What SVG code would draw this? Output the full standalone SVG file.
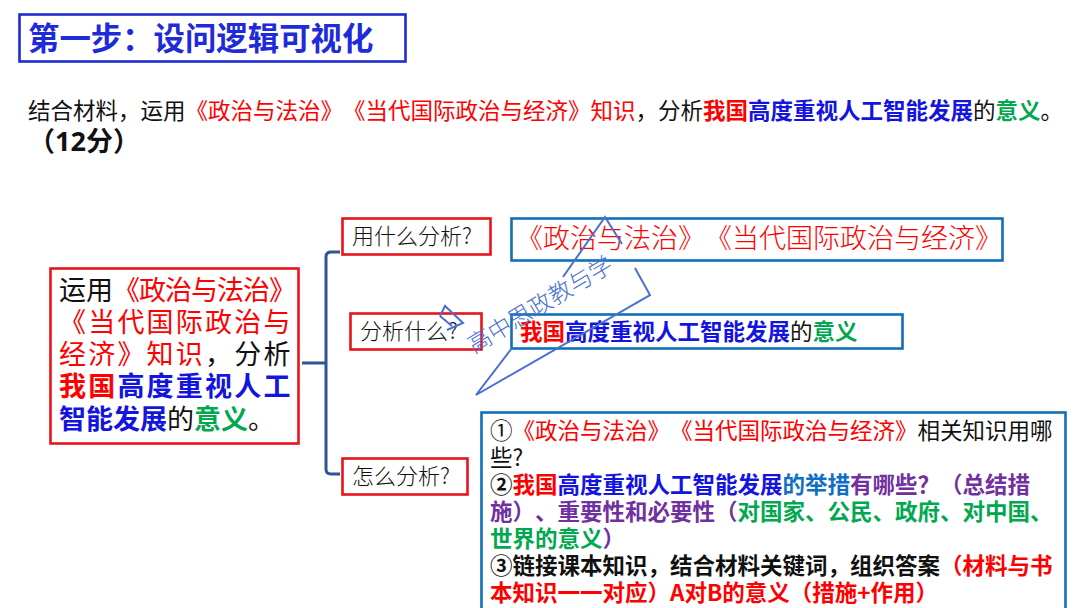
<svg xmlns="http://www.w3.org/2000/svg" width="1080" height="608" viewBox="0 0 1080 608">
<style>
text{font-family:"Noto Sans CJK SC","Noto Sans",sans-serif;fill:#111;white-space:pre;text-spacing-trim:space-all;font-feature-settings:"palt" 0,"chws" 0}
.r{fill:#f00}.b{fill:#1414e0}.g{fill:#00a850}.p{fill:#7030a0}.c{fill:#0f6fc6}.k{fill:#111}
.bd{font-weight:700}.lt{font-weight:300}
.rb{fill:#fff;stroke:#e8131c;stroke-width:2.6}
.bb{fill:#fff;stroke:#0f70b8;stroke-width:2.6}
.wm{fill:none;stroke:#4a6fd0;stroke-width:2}
</style>
<rect width="1080" height="608" fill="#fff"/>
<g id="title"><rect x="19.5" y="14.5" width="386" height="47" fill="#fff" stroke="#1f2bd0" stroke-width="2.6"/>
<text x="28" y="50" font-size="31.4" font-weight="700" style="fill:#1f2bd8">第一步：设问逻辑可视化</text></g>
<g id="question"><text x="28" y="119" font-size="22.5">结合材料，运用<tspan class="r">《政治与法治》《当代国际政治与经济》知识</tspan>，分析<tspan class="r bd">我国</tspan><tspan class="b bd">高度重视人工智能发展</tspan>的<tspan class="g bd">意义</tspan>。</text>
<text x="28" y="151" font-size="27" font-weight="700">（<tspan style="font-family:'Open Sans','Noto Sans',sans-serif">12</tspan>分）</text></g>
<g id="connectors"><path d="M302 363H326M340 252H331Q326 252 326 257V469Q326 474 331 474H340" fill="none" stroke="#2f5597" stroke-width="3"/></g>
<g id="main"><rect class="rb" x="50.5" y="268.5" width="248" height="175"/>
<text font-size="27"><tspan x="59" y="300">运用</tspan><tspan class="r" x="113" y="300" letter-spacing="-1">《政治与法治》</tspan>
<tspan class="r" x="59" y="332" letter-spacing="2.2">《当代国际政治与</tspan>
<tspan class="r" x="59" y="364" letter-spacing="2.2">经济》知识</tspan><tspan x="205" y="364" letter-spacing="2.2">，分析</tspan>
<tspan class="r bd" x="59" y="396" letter-spacing="2.2">我国</tspan><tspan class="b bd" letter-spacing="2.2">高度重视人工</tspan>
<tspan class="b bd" x="59" y="429">智能发展</tspan><tspan>的</tspan><tspan class="g bd">意义</tspan><tspan>。</tspan></text></g>
<g id="q1"><rect class="rb" x="342.500" y="218.500" width="148" height="36"/><text class="lt" x="352" y="244" font-size="22">用什么分析?</text></g>
<g id="q2"><rect class="rb" x="350.500" y="313.500" width="131" height="36"/><text class="lt" x="360" y="339" font-size="22">分析什么?</text></g>
<g id="q3"><rect class="rb" x="342.500" y="458.500" width="125" height="36"/><text class="lt" x="352" y="484" font-size="22">怎么分析?</text></g>
<g id="a1"><rect class="bb" x="511.500" y="218.500" width="491" height="42"/><text class="lt r" x="516" y="248" font-size="27">《政治与法治》《当代国际政治与经济》</text></g>
<g id="a2"><rect class="bb" x="511.500" y="314.500" width="391" height="34"/><text x="520" y="340" font-size="22.500"><tspan class="r bd">我国</tspan><tspan class="b bd">高度重视人工智能发展</tspan><tspan>的</tspan><tspan class="g bd">意义</tspan></text></g>
<g id="a3"><rect class="bb" x="481.500" y="412.500" width="584" height="200"/>
<text font-size="22.5"><tspan x="490" y="439">①</tspan><tspan class="r" x="512.500" y="439">《政治与法治》《当代国际政治与经济》</tspan><tspan>相关知识用哪</tspan>
<tspan x="490" y="466">些?</tspan>
<tspan x="490" y="493" class="bd">②</tspan><tspan class="r bd" x="512.500" y="493">我国</tspan><tspan class="b bd">高度重视人工智能发展</tspan><tspan class="c bd">的举措</tspan><tspan class="p bd">有哪些？（总结措</tspan>
<tspan x="490" y="520" class="p bd">施）、重要性和必要性（</tspan><tspan class="g bd">对国家、公民、政府、对中国、</tspan>
<tspan x="490" y="547" class="g bd">世界的意义</tspan><tspan class="p bd">）</tspan>
<tspan x="490" y="574" class="bd">③</tspan><tspan x="512.500" y="574" class="bd">链接课本知识，结合材料关键词，组织答案</tspan><tspan class="r bd">（材料与书</tspan>
<tspan x="490" y="601" class="r bd">本知识一一对应）A对B的意义（措施+作用）</tspan></text></g>
<g id="watermark"><path class="wm" d="M512 348L476 395L650 295L635 268M563 277L605 217L622 244M440 316L445 306L463 323L447 330M440 316L452 326"/>
<text class="lt" transform="translate(474 354) rotate(-31)" font-size="23.500" style="fill:#4a6fd0">高中思政教与学</text></g>
</svg>
